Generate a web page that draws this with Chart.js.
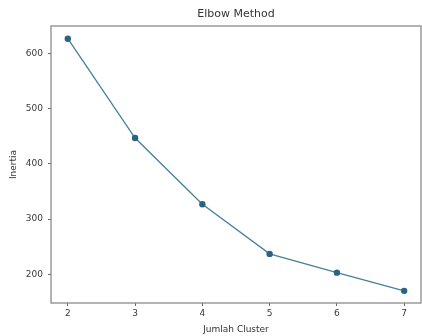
<!DOCTYPE html>
<html>
<head>
<meta charset="utf-8">
<script src="https://cdn.jsdelivr.net/npm/chart.js@4.4.1/dist/chart.umd.min.js"></script>
<style>
	html, body { margin: 0; padding: 0; background: #ffffff; }
	#wrap { width: 422px; height: 336px; }
</style>
</head>
<body>
<div id="wrap"><canvas id="elbow-chart" width="422" height="336"></canvas></div>
<script>
// cluster counts and their inertia
var clusterCounts = [2, 3, 4, 5, 6, 7];
var inertiaValues = [627, 447, 327, 237, 203, 170];

// tick labels
var xTicks = [2, 3, 4, 5, 6, 7];
var yTicks = [200, 300, 400, 500, 600];

var chartTitle = 'Elbow Method';
var xLabel = 'Jumlah Cluster';
var yLabel = 'Inertia';

var LINE_COLOR = '#45809b';
var POINT_COLOR = '#2a6480';
var FONT = 'DejaVu Sans';

//frame round the plot area plus the title, matplotlib style
var framePlugin = {
	id: 'frame',
	afterDraw: function(chart) {
		var ctx = chart.ctx,
			a = chart.chartArea;
		ctx.save();
		ctx.strokeStyle = '#8a8a8a';
		ctx.lineWidth = 1.3;
		ctx.strokeRect(a.left, a.top, a.right - a.left, a.bottom - a.top);
		//title centred on the plot area
		ctx.fillStyle = '#333333';
		ctx.font = '11px "' + FONT + '"';
		ctx.textAlign = 'center';
		ctx.textBaseline = 'middle';
		ctx.fillText(chartTitle, (a.left + a.right) / 2, 14);
		ctx.restore();
	}
};

var data = {
	datasets: [{
		data: clusterCounts.map(function(c, i) { return { x: c, y: inertiaValues[i] }; }),
		borderColor: LINE_COLOR,
		backgroundColor: POINT_COLOR,
		borderWidth: 1.3,
		pointRadius: 3.2,
		pointBorderWidth: 0,
		tension: 0
	}]
};

var options = {
	responsive: false,
	animation: false,
	layout: { autoPadding: false, padding: { top: 26, right: 1, left: 0, bottom: 0 } },
	plugins: {
		legend: { display: false },
		tooltip: { enabled: false }
	},
	scales: {
		x: {
			type: 'linear',
			min: 1.75,
			max: 7.25,
			afterBuildTicks: function(scale) {
				scale.ticks = xTicks.map(function(v) { return { value: v }; });
			},
			afterFit: function(scale) {
				scale.height = 33;
				scale.paddingLeft = 0;
				scale.paddingRight = 0;
			},
			grid: { drawOnChartArea: false, tickLength: 3, tickColor: '#666', tickWidth: 1 },
			border: { display: false },
			ticks: { color: '#3a3a3a', padding: 2, font: { family: FONT, size: 9 }, maxRotation: 0 },
			title: { display: true, text: xLabel, color: '#333', padding: 1, font: { family: FONT, size: 9 } }
		},
		y: {
			min: 148,
			max: 650,
			afterBuildTicks: function(scale) {
				scale.ticks = yTicks.map(function(v) { return { value: v }; });
			},
			afterFit: function(scale) {
				scale.width = 51;
				scale.paddingTop = 0;
				scale.paddingBottom = 0;
			},
			grid: { drawOnChartArea: false, tickLength: 3, tickColor: '#666', tickWidth: 1 },
			border: { display: false },
			ticks: { color: '#3a3a3a', padding: 5, font: { family: FONT, size: 9 } },
			title: { display: true, text: yLabel, color: '#333', padding: 8, font: { family: FONT, size: 9 } }
		}
	}
};

var ctx = document.getElementById('elbow-chart').getContext('2d');
var elbowChart = new Chart(ctx, { type: 'line', data: data, options: options, plugins: [framePlugin] });
</script>
</body>
</html>
